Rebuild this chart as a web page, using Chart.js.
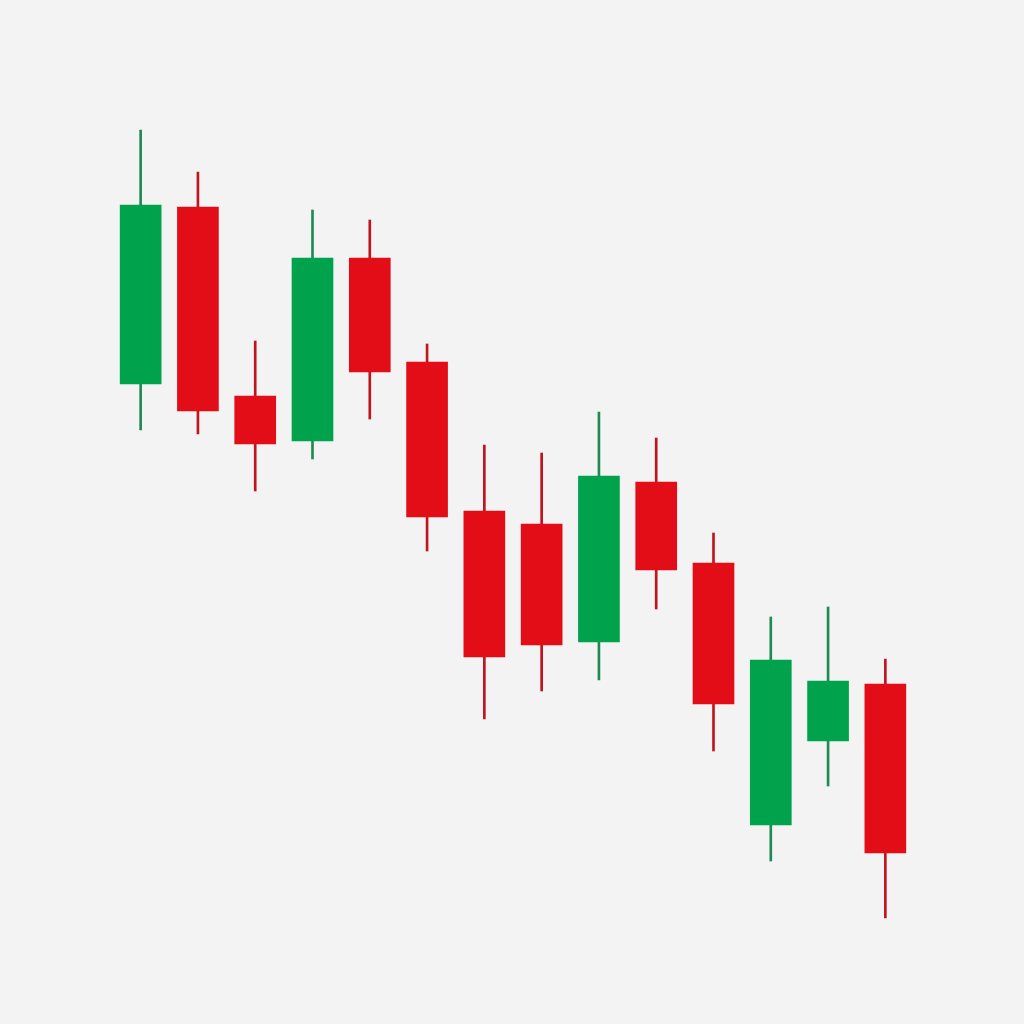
<!DOCTYPE html>
<html>
<head>
<meta charset="utf-8">
<script src="https://cdn.jsdelivr.net/npm/chart.js@4.4.1/dist/chart.umd.min.js"></script>
<style>
  html, body { margin:0; padding:0; background:#f3f3f3; }
  #wrap { width:1024px; height:1024px; }
</style>
</head>
<body>
<div id="wrap"><canvas id="candleChart"></canvas></div>
<script>
/* ========================= */
/* DATA */
/* ========================= */

const labels = ["1","2","3","4","5","6","7","8","9","10","11","12","13","14"];

const opens  = [71.6, 89.3, 70.4, 65.9, 84.2, 73.8, 58.9, 57.6, 45.8, 61.8, 53.7, 27.5, 35.9, 41.6];
const highs  = [97.0, 92.8, 75.9, 89.0, 88.0, 75.6, 65.5, 64.7, 68.8, 66.2, 56.7, 48.3, 49.3, 44.1];
const lows   = [67.0, 66.6, 60.9, 64.1, 68.1, 54.9, 38.1, 40.9, 42.0, 49.1, 34.9, 23.9, 31.4, 18.2];
const closes = [89.5, 68.9, 65.6, 84.2, 72.8, 58.3, 44.3, 45.5, 62.4, 53.0, 39.6, 44.0, 41.9, 24.7];

const UP = '#00a24b';
const DOWN = '#e30d17';
const UP_WICK = '#1f8a52';
const DOWN_WICK = '#c0141f';

const isUp = opens.map((o, i) => closes[i] >= o);

const bodies = opens.map((o, i) => [Math.min(o, closes[i]), Math.max(o, closes[i])]);
const wicks = lows.map((l, i) => [l, highs[i]]);

/* ========================= */
/* CHART */
/* ========================= */

new Chart(document.getElementById("candleChart"), {
  type: 'bar',
  data: {
    labels: labels,
    datasets: [
      {
        label: 'wick',
        data: wicks,
        backgroundColor: isUp.map(u => u ? UP_WICK : DOWN_WICK),
        barThickness: 2,
        grouped: false,
        order: 2
      },
      {
        label: 'body',
        data: bodies,
        backgroundColor: isUp.map(u => u ? UP : DOWN),
        barThickness: 41,
        grouped: false,
        order: 1
      }
    ]
  },
  options: {
    responsive: true,
    maintainAspectRatio: false,
    animation: false,
    layout: { padding: { left: 112, right: 110, top: 0, bottom: 0 } },
    plugins: { legend: { display: false }, tooltip: { enabled: false } },
    scales: {
      x: { display: false },
      y: { display: false, min: 7.6, max: 110 }
    }
  }
});
</script>
</body>
</html>
